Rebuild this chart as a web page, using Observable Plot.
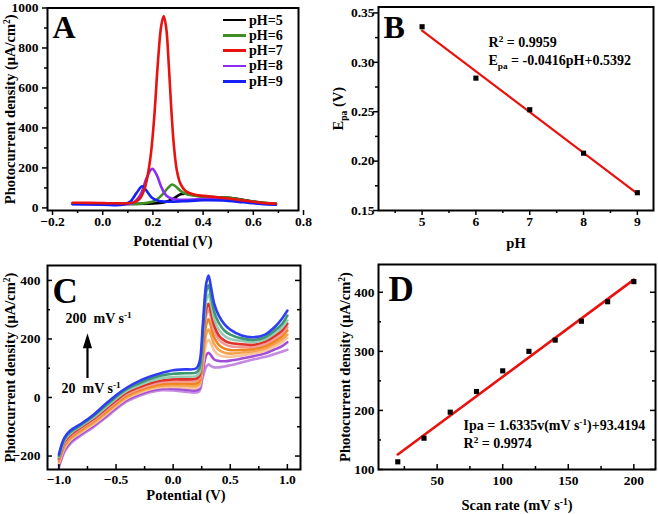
<!DOCTYPE html>
<html><head><meta charset="utf-8">
<script src="https://cdn.jsdelivr.net/npm/d3@7"></script>
<script src="https://cdn.jsdelivr.net/npm/@observablehq/plot@0.6"></script>
<style>
html,body{margin:0;padding:0;background:#fff;}
#fig{position:relative;width:658px;height:514px;overflow:hidden;background:#fff;font-family:"Liberation Serif","Times New Roman",serif;font-weight:bold;}
.panel{position:absolute;}
.legend{position:absolute;font-size:14px;line-height:15.3px;}
.legend .row{display:flex;align-items:center;height:15.3px;}
.legend .sw{width:23px;height:2.6px;margin-right:3px;}
</style></head><body><div id="fig"></div>
<script>
// ---------- Panel A: photocurrent vs potential at different pH ----------
const phLabels = ["pH=5", "pH=6", "pH=7", "pH=8", "pH=9"];
const phColors = ["#000000", "#3f8f25", "#e8120f", "#8a2cf5", "#1620f5"];
const ph5Potential = [-0.12, 0.0, 0.1, 0.2, 0.25, 0.28, 0.31, 0.34, 0.37, 0.41, 0.47, 0.52, 0.57, 0.62, 0.66, 0.69];
const ph5Current   = [22, 21, 20, 22, 30, 45, 68, 70, 62, 55, 52, 48, 38, 28, 22, 20];
const ph6Potential = [-0.12, 0.0, 0.1, 0.17, 0.21, 0.24, 0.26, 0.277, 0.29, 0.31, 0.33, 0.36, 0.4, 0.5, 0.6, 0.69];
const ph6Current   = [22, 21, 20, 24, 38, 70, 100, 117, 108, 85, 70, 62, 56, 50, 32, 20];
const ph7Potential = [-0.12, -0.05, 0.0, 0.05, 0.1, 0.13, 0.15, 0.17, 0.19, 0.205, 0.22, 0.233, 0.243, 0.253, 0.263, 0.273, 0.283, 0.295, 0.31, 0.33, 0.36, 0.4, 0.45, 0.5, 0.55, 0.6, 0.65, 0.69];
const ph7Current   = [26, 25, 24, 23, 23, 30, 50, 110, 250, 450, 730, 910, 960, 900, 720, 500, 320, 190, 120, 85, 68, 60, 54, 47, 39, 31, 24, 21];
const ph8Potential = [-0.12, 0.0, 0.08, 0.12, 0.15, 0.175, 0.197, 0.215, 0.235, 0.255, 0.28, 0.32, 0.4, 0.5, 0.6, 0.69];
const ph8Current   = [20, 18, 18, 25, 65, 150, 196, 165, 100, 60, 45, 40, 44, 40, 27, 18];
const ph9Potential = [-0.12, 0.0, 0.08, 0.11, 0.135, 0.157, 0.175, 0.195, 0.22, 0.26, 0.32, 0.4, 0.48, 0.56, 0.63, 0.69];
const ph9Current   = [18, 16, 16, 32, 75, 108, 85, 52, 36, 31, 33, 38, 37, 28, 20, 16];
const xTicksA = [-0.2, 0, 0.2, 0.4, 0.6, 0.8];
const xMinorA = [-0.1, 0.1, 0.3, 0.5, 0.7];
const yTicksA = [0, 200, 400, 600, 800, 1000];
const yMinorA = [100, 300, 500, 700, 900];

// ---------- Panel B: Epa vs pH ----------
const phValues  = [5, 6, 7, 8, 9];
const epaValues = [0.336, 0.284, 0.252, 0.208, 0.168];
const xTicksB = [5, 6, 7, 8, 9];
const xMinorB = [4.5, 5.5, 6.5, 7.5, 8.5];
const yTicksB = [0.15, 0.20, 0.25, 0.30, 0.35];
const yMinorB = [0.175, 0.225, 0.275, 0.325];

// ---------- Panel C: CV curves at scan rates ----------
const cvScanRates = [20, 40, 60, 80, 100, 120, 140, 160, 180, 200];
const cvColors = ["#c48be0", "#a24fd8", "#f7c39a", "#f5a34c", "#ee8420", "#f39a95", "#e2302b", "#95cdb4", "#3e9673", "#2f3ef2"];
const cvPotential = [-1.0, -0.98, -0.95, -0.9, -0.8, -0.7, -0.6, -0.5, -0.4, -0.3, -0.2, -0.1, 0.0, 0.1, 0.2, 0.23, 0.26, 0.29, 0.31, 0.33, 0.36, 0.4, 0.45, 0.5, 0.6, 0.7, 0.8, 0.9, 0.95, 1.0];
const cv20  = [-240, -215, -185, -158, -128, -102, -72, -40, -12, 5, 18, 25, 24, 20, 17, 22, 70, 105, 113, 108, 103, 103, 106, 110, 120, 130, 138, 150, 156, 163];
const cv40  = [-232, -208, -178, -152, -123, -97, -67, -35, -7, 10, 23, 30, 30, 27, 24, 30, 90, 145, 153, 145, 130, 125, 124, 126, 133, 141, 150, 166, 175, 189];
const cv60  = [-226, -202, -172, -146, -118, -92, -62, -30, -2, 15, 28, 35, 36, 34, 32, 38, 110, 185, 197, 185, 160, 145, 140, 139, 144, 150, 159, 177, 188, 204];
const cv80  = [-220, -196, -166, -141, -113, -87, -57, -25, 3, 20, 33, 40, 42, 41, 40, 47, 130, 218, 232, 215, 182, 162, 153, 150, 154, 158, 167, 186, 198, 215];
const cv100 = [-215, -191, -161, -136, -108, -82, -52, -20, 8, 25, 38, 46, 48, 48, 48, 56, 150, 250, 267, 245, 205, 180, 167, 162, 163, 166, 175, 195, 208, 229];
const cv120 = [-212, -186, -156, -132, -104, -78, -47, -15, 13, 30, 43, 52, 55, 55, 56, 65, 170, 282, 300, 275, 228, 198, 182, 175, 173, 173, 182, 204, 218, 240];
const cv140 = [-208, -182, -151, -128, -100, -73, -42, -10, 18, 35, 49, 58, 62, 62, 64, 74, 185, 302, 320, 293, 245, 212, 194, 186, 182, 180, 190, 213, 228, 252];
const cv160 = [-204, -178, -146, -123, -96, -69, -37, -4, 24, 41, 56, 66, 70, 71, 73, 84, 200, 332, 352, 322, 268, 232, 210, 200, 193, 189, 198, 222, 238, 263];
const cv180 = [-200, -172, -141, -118, -92, -64, -31, 2, 30, 48, 64, 75, 81, 83, 85, 98, 220, 362, 383, 350, 292, 255, 228, 215, 202, 197, 205, 232, 250, 280];
const cv200 = [-195, -165, -136, -113, -88, -60, -25, 8, 35, 56, 72, 84, 93, 96, 99, 120, 250, 390, 417, 380, 320, 280, 250, 232, 212, 206, 214, 245, 268, 297];
const xTicksC = [-1, -0.5, 0, 0.5, 1];
const xMinorC = [-0.75, -0.25, 0.25, 0.75];
const yTicksC = [-200, 0, 200, 400];
const yMinorC = [-100, 100, 300];
const arrowC = [{x: -0.75, y1: 65, y2: 178, head: 185}];

// ---------- Panel D: peak current vs scan rate ----------
const scanRates = [20, 40, 60, 80, 100, 120, 140, 160, 180, 200];
const ipaValues = [113, 153, 197, 232, 267, 300, 319, 351, 384, 418];
const xTicksD = [50, 100, 150, 200];
const xMinorD = [25, 75, 125, 175];
const yTicksD = [100, 200, 300, 400];
const yMinorD = [150, 250, 350];

// ---------- helpers ----------
const FONT = "'Liberation Serif','Times New Roman',serif";
const fig = document.getElementById("fig");
const f1 = d3.format(".1f"), f2 = d3.format(".2f"), fi = d3.format("d");

function tickMarks(o) {
  const marks = [], sw = 1.5;
  const addX = (vals, len) => marks.push(o.inward
    ? Plot.tickX(vals, {x: d => d, insetTop: o.fh - len, strokeWidth: sw})
    : Plot.tickX(vals, {x: d => d, insetTop: o.fh, insetBottom: -len, strokeWidth: sw}));
  const addY = (vals, len) => {
    marks.push(o.inward
      ? Plot.tickY(vals, {y: d => d, insetRight: o.fw - len, strokeWidth: sw})
      : Plot.tickY(vals, {y: d => d, insetRight: o.fw, insetLeft: -len, strokeWidth: sw}));
    if (o.mirror) marks.push(Plot.tickY(vals, {y: d => d, insetLeft: o.fw - len, strokeWidth: sw}));
  };
  addX(o.xMajor, 5); addX(o.xMinor, 3); addY(o.yMajor, 5); addY(o.yMinor, 3);
  marks.push(Plot.axisX(o.xMajor, {tickSize: 0, tickPadding: o.padX, tickFormat: o.fx, label: null, fontSize: 13.5}));
  marks.push(Plot.axisY(o.yMajor, {tickSize: 0, tickPadding: o.padY, tickFormat: o.fy, label: null, fontSize: 13.5}));
  return marks;
}

function titles(xt, yt, ydx, xdy, xdx = 0) {
  return [
    Plot.text([xt], {text: d => d, frameAnchor: "bottom", dy: xdy, dx: xdx, fontSize: 14.5, lineAnchor: "middle", textAnchor: "middle"}),
    Plot.text([yt], {text: d => d, frameAnchor: "left", dx: ydx, rotate: -90, fontSize: 14.5, lineAnchor: "middle", textAnchor: "middle"})
  ];
}

function richify(root) {
  root.querySelectorAll("text").forEach(el => {
    const s = el.textContent;
    if (!/[\^_]\{/.test(s) || el.querySelector("tspan")) return;
    const fs = parseFloat(getComputedStyle(el).fontSize) || 13;
    while (el.firstChild) el.removeChild(el.firstChild);
    const re = /([\^_])\{([^}]*)\}/g;
    let last = 0, m, cur = 0;
    const add = (txt, target, small) => {
      const t = document.createElementNS("http://www.w3.org/2000/svg", "tspan");
      t.textContent = txt;
      const dy = target - cur;
      if (dy) t.setAttribute("dy", dy.toFixed(2));
      cur = target;
      if (small) t.setAttribute("font-size", (fs * 0.66).toFixed(2));
      el.appendChild(t);
    };
    while ((m = re.exec(s))) {
      if (m.index > last) add(s.slice(last, m.index), 0, false);
      add(m[2], m[1] === "^" ? -0.38 * fs : 0.28 * fs, true);
      last = re.lastIndex;
    }
    if (last < s.length) add(s.slice(last), 0, false);
  });
}

function panel(p) {
  const svg = Plot.plot({
    width: p.width, height: p.height,
    marginLeft: p.m[0], marginRight: p.m[1], marginTop: p.m[2], marginBottom: p.m[3],
    x: {domain: p.xd, label: null},
    y: {domain: p.yd, label: null},
    style: {fontFamily: FONT, fontSize: "13.5px", fontWeight: "bold", background: "transparent", overflow: "visible", color: "black"},
    marks: p.marks
  });
  const wrap = document.createElement("div");
  wrap.className = "panel";
  wrap.style.left = p.left + "px";
  wrap.style.top = p.top + "px";
  wrap.appendChild(svg);
  fig.appendChild(wrap);
  richify(svg);
  return wrap;
}

// ---------- Panel A ----------
const seriesA = [
  {x: ph5Potential, y: ph5Current, c: phColors[0]},
  {x: ph6Potential, y: ph6Current, c: phColors[1]},
  {x: ph8Potential, y: ph8Current, c: phColors[3]},
  {x: ph9Potential, y: ph9Current, c: phColors[4]},
  {x: ph7Potential, y: ph7Current, c: phColors[2]}
];
{
  const W = 330, H = 250, m = [47, 32, 7.5, 40];
  const fw = W - m[0] - m[1], fh = H - m[2] - m[3];
  panel({
    left: 0, top: 0, width: W, height: H, m, xd: [-0.22, 0.78], yd: [-13, 1000],
    marks: [
      ...seriesA.map(s => Plot.line(s.x.map((v, i) => [v, s.y[i]]), {x: d => d[0], y: d => d[1], stroke: s.c, strokeWidth: 2.6, curve: "catmull-rom"})),
      Plot.frame({strokeWidth: 2}),
      ...tickMarks({xMajor: xTicksA, xMinor: xMinorA, yMajor: yTicksA, yMinor: yMinorA, fw, fh, inward: false, padX: 6, padY: 9, fx: f1, fy: fi}),
      ...titles("Potential (V)", "Photocurrent density (μA/cm^{2})", -37, 31),
      Plot.text(["A"], {text: d => d, frameAnchor: "top-left", dx: 5, dy: 29.5, fontSize: 32, lineAnchor: "bottom", textAnchor: "start"})
    ]
  });
  const lg = document.createElement("div");
  lg.className = "legend";
  lg.style.left = "223px";
  lg.style.top = "12.5px";
  phLabels.forEach((lab, i) => {
    const row = document.createElement("div");
    row.className = "row";
    row.innerHTML = `<div class="sw" style="background:${phColors[i]}"></div><span>${lab}</span>`;
    lg.appendChild(row);
  });
  fig.appendChild(lg);
}

// ---------- Panel B ----------
{
  const W = 328, H = 250, m = [48, 5, 6.5, 40];
  const fw = W - m[0] - m[1], fh = H - m[2] - m[3];
  const data = phValues.map((p, i) => ({pH: p, epa: epaValues[i]}));
  panel({
    left: 330, top: 0, width: W, height: H, m, xd: [4.19, 9.3], yd: [0.15, 0.356],
    marks: [
      Plot.linearRegressionY(data, {x: "pH", y: "epa", stroke: "#e8120f", strokeWidth: 2.2, ci: 0}),
      Plot.dot(data, {x: "pH", y: "epa", symbol: "square", r: 2.9, fill: "black", stroke: "none"}),
      Plot.frame({strokeWidth: 2}),
      ...tickMarks({xMajor: xTicksB, xMinor: xMinorB, yMajor: yTicksB, yMinor: yMinorB, fw, fh, inward: false, padX: 6, padY: 4, fx: fi, fy: f2}),
      ...titles("pH", "E_{pa} (V)", -40, 33),
      Plot.text(["B"], {text: d => d, frameAnchor: "top-left", dx: 5, dy: 30.5, fontSize: 32, lineAnchor: "bottom", textAnchor: "start"}),
      Plot.text(["R^{2} = 0.9959"], {text: d => d, frameAnchor: "top-left", dx: 110, dy: 35.5, fontSize: 14, lineAnchor: "middle", textAnchor: "start"}),
      Plot.text(["E_{pa} = -0.0416pH+0.5392"], {text: d => d, frameAnchor: "top-left", dx: 110, dy: 53.5, fontSize: 14, lineAnchor: "middle", textAnchor: "start"})
    ]
  });
}

// ---------- Panel C ----------
{
  const W = 330, H = 264, m = [47, 30, 15, 45];
  const fw = W - m[0] - m[1], fh = H - m[2] - m[3];
  const curves = [cv20, cv40, cv60, cv80, cv100, cv120, cv140, cv160, cv180, cv200];
  const tri = {draw(ctx) { ctx.moveTo(0, -10); ctx.lineTo(4.6, 5); ctx.lineTo(-4.6, 5); ctx.closePath(); }};
  panel({
    left: 0, top: 250, width: W, height: H, m, xd: [-1.1, 1.115], yd: [-246, 451],
    marks: [
      ...curves.map((cv, k) => Plot.line(cvPotential.map((v, i) => [v, cv[i]]), {x: d => d[0], y: d => d[1], stroke: cvColors[k], strokeWidth: 2.6, curve: "catmull-rom"})),
      Plot.frame({strokeWidth: 2}),
      ...tickMarks({xMajor: xTicksC, xMinor: xMinorC, yMajor: yTicksC, yMinor: yMinorC, fw, fh, inward: true, mirror: true, padX: 5, padY: 7, fx: f1, fy: fi}),
      ...titles("Potential (V)", "Photocurrent density (μA/cm^{2})", -37, 26, 12),
      Plot.text(["C"], {text: d => d, frameAnchor: "top-left", dx: 5, dy: 37, fontSize: 35, lineAnchor: "bottom", textAnchor: "start"}),
      Plot.ruleX(arrowC, {x: "x", y1: "y1", y2: "y2", strokeWidth: 2.2}),
      Plot.dot(arrowC, {x: "x", y: "head", symbol: tri, r: 5, fill: "black", stroke: "none"}),
      Plot.text(["200  mV s^{-1}"], {text: d => d, frameAnchor: "top-left", dx: 18, dy: 53, fontSize: 14, lineAnchor: "middle", textAnchor: "start"}),
      Plot.text(["20  mV s^{-1}"], {text: d => d, frameAnchor: "top-left", dx: 14, dy: 123, fontSize: 14, lineAnchor: "middle", textAnchor: "start"})
    ]
  });
}

// ---------- Panel D ----------
{
  const W = 328, H = 264, m = [48, 3, 14, 45];
  const fw = W - m[0] - m[1], fh = H - m[2] - m[3];
  const data = scanRates.map((v, i) => ({v, ipa: ipaValues[i]}));
  panel({
    left: 330, top: 250, width: W, height: H, m, xd: [5.3, 216.5], yd: [100, 447],
    marks: [
      Plot.linearRegressionY(data, {x: "v", y: "ipa", stroke: "#e8120f", strokeWidth: 2.6, ci: 0}),
      Plot.dot(data, {x: "v", y: "ipa", symbol: "square", r: 2.9, fill: "black", stroke: "none"}),
      Plot.frame({strokeWidth: 2}),
      ...tickMarks({xMajor: xTicksD, xMinor: xMinorD, yMajor: yTicksD, yMinor: yMinorD, fw, fh, inward: true, mirror: true, padX: 6, padY: 4, fx: fi, fy: fi}),
      ...titles("Scan rate (mV s^{-1})", "Photocurrent density (μA/cm^{2})", -33, 36),
      Plot.text(["D"], {text: d => d, frameAnchor: "top-left", dx: 10, dy: 36, fontSize: 35, lineAnchor: "bottom", textAnchor: "start"}),
      Plot.text(["Ipa = 1.6335v(mV s^{-1})+93.4194"], {text: d => d, frameAnchor: "top-left", dx: 85, dy: 161, fontSize: 14, lineAnchor: "middle", textAnchor: "start"}),
      Plot.text(["R^{2} = 0.9974"], {text: d => d, frameAnchor: "top-left", dx: 85, dy: 179, fontSize: 14, lineAnchor: "middle", textAnchor: "start"})
    ]
  });
}
</script></body></html>
